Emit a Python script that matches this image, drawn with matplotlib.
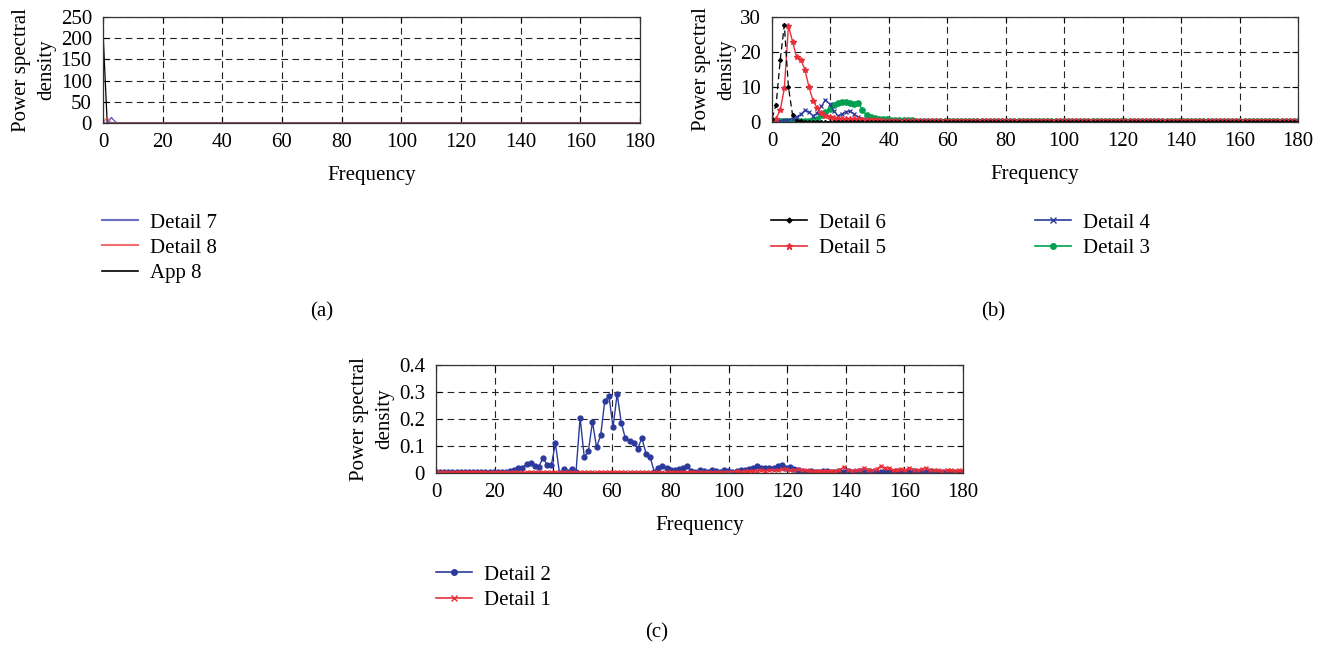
import numpy as np
import matplotlib.pyplot as plt
from matplotlib.lines import Line2D

plt.rcParams['font.family'] = ['Liberation Serif', 'DejaVu Serif']
plt.rcParams['font.size'] = 15

# frequency bins (256-point FFT at 360 Hz -> 129 bins up to 180 Hz)
freq = np.linspace(0, 180, 129)
xticks = [0, 20, 40, 60, 80, 100, 120, 140, 160, 180]

# (a) low bands
app8 = [215] + [0] * 128
detail8 = [0, 14] + [0] * 127
detail7 = [0, 0, 13, 2] + [0] * 125

# (b) middle bands
detail6 = [1.0, 4.9, 17.7, 27.7, 10, 2, 0.4, 0.2] + [0.1] * 121
detail5 = [0.5, 1.0, 3.4, 9.6, 27.5, 23, 18.5, 17.8, 15, 10, 6, 4, 2.5, 1.8,
           1.5, 1.2, 1.0, 1.0, 0.9, 0.9, 0.8, 0.8, 0.7, 0.7, 0.6, 0.5, 0.5,
           0.4] + [0.2] * 101
detail4 = [0.3, 0.3, 0.4, 0.5, 0.6, 1.0, 1.5, 2.2, 3.3, 2.8, 1.8, 2.5, 4.5,
           6.3, 5.2, 3.2, 1.8, 2.3, 3.0, 3.1, 2.2, 1.5, 1.0, 0.7, 0.5, 0.4,
           0.4, 0.3, 0.3, 0.3] + [0.2] * 99
detail3 = [0.3] * 10 + [0.5, 1.0, 2.0, 3.0, 3.8, 4.8, 5.4, 5.8, 5.7, 5.4, 5.2,
                        5.5, 3.4, 2.0, 1.4, 1.1, 0.9, 0.8, 0.8, 0.7, 0.6, 0.6,
                        0.5, 0.5, 0.5, 0.4, 0.4, 0.4, 0.4, 0.4, 0.4, 0.4, 0.4,
                        0.4, 0.4, 0.4] + [0.3] * 83

# (c) high bands
detail2 = ([0.003] * 18 +
           [0.006, 0.011, 0.02, 0.02, 0.033, 0.038, 0.026, 0.024, 0.057, 0.03,
            0.028, 0.11, 0.0, 0.015, 0.005, 0.015, 0.003, 0.205, 0.06, 0.08,
            0.19, 0.095, 0.14, 0.268, 0.285, 0.17, 0.293, 0.186, 0.128, 0.118,
            0.11, 0.09, 0.13, 0.072, 0.06, 0.005, 0.02, 0.025, 0.018, 0.01,
            0.01, 0.015, 0.02, 0.025] +
           [0.008, 0.005, 0.01, 0.006, 0.004, 0.012, 0.008, 0.005, 0.01, 0.006,
            0.004, 0.008, 0.01] +
           [0.012, 0.015, 0.02, 0.026, 0.02, 0.018, 0.02, 0.02, 0.025, 0.03,
            0.02, 0.022, 0.015, 0.01] +
           [0.006, 0.004, 0.008, 0.005, 0.003, 0.006, 0.007, 0.004, 0.005, 0.008,
            0.004, 0.006, 0.003, 0.005, 0.007, 0.004, 0.006, 0.005, 0.003, 0.004,
            0.006, 0.005, 0.004, 0.007, 0.003, 0.005, 0.004, 0.006, 0.003, 0.005,
            0.004, 0.006, 0.005, 0.003, 0.004, 0.005, 0.003, 0.004, 0.005, 0.003])
detail1 = ([0.002] * 71 +
           [0.004, 0.005, 0.006, 0.005, 0.007, 0.008, 0.006, 0.008, 0.01, 0.009,
            0.011, 0.012, 0.01, 0.013, 0.015, 0.012, 0.01, 0.014, 0.012, 0.01,
            0.008, 0.009, 0.007, 0.008, 0.006, 0.008, 0.007, 0.01] +
           [0.022, 0.01, 0.008, 0.012, 0.01, 0.02, 0.01, 0.012, 0.015, 0.025,
            0.018, 0.02, 0.012, 0.01, 0.015, 0.01, 0.02, 0.012, 0.01, 0.014,
            0.018, 0.01, 0.012, 0.01, 0.008, 0.012, 0.01, 0.008, 0.01, 0.008])

BLUE = '#2b3a9b'
RED = '#e8303a'
GREEN = '#00a050'
W, H = 1328, 646
FS = 15


def style(ax, yticks, ylabels):
    ax.set_xlim(0, 180)
    ax.set_ylim(yticks[0], yticks[-1])
    ax.set_xticks(xticks)
    ax.set_yticks(yticks)
    ax.set_yticklabels(ylabels)
    ax.grid(True, ls=(0, (6, 4)), color='#222222', lw=0.8)
    ax.tick_params(direction='in', top=True, right=True, length=4,
                   labelsize=FS)
    ax.tick_params(axis='x', pad=7)
    ax.tick_params(axis='y', pad=8)
    for s in ax.spines.values():
        s.set_color('#333333')
        s.set_linewidth(0.9)
    ax.set_xlabel('Frequency', fontsize=FS, labelpad=10)
    ax.set_ylabel('Power spectral\ndensity', fontsize=FS, labelpad=3,
                  linespacing=1.45)


def box(l, t, r, b):
    return [l / W, 1 - b / H, (r - l) / W, (b - t) / H]


leg_kw = dict(loc='upper left', frameon=False, fontsize=FS, handlelength=1.75,
              handletextpad=0.55, labelspacing=0.27, borderpad=0,
              borderaxespad=0)

fig = plt.figure(figsize=(13.28, 6.46), dpi=100)

# (a)
ax1 = fig.add_axes(box(103, 17, 640, 123))
ax1.plot(freq, app8, color='black', lw=0.9, label='App 8')
ax1.plot(freq, detail7, color='#4a55b5', lw=0.9, label='Detail 7')
ax1.plot(freq, detail8, color='#e84a4a', lw=0.9, alpha=0.75, label='Detail 8')
style(ax1, [0, 50, 100, 150, 200, 250], ['0', '50', '100', '150', '200', '250'])
h = [Line2D([], [], color='#6a70c0', lw=1.5),
     Line2D([], [], color='#f07070', lw=1.5),
     Line2D([], [], color='black', lw=1.2)]
fig.legend(h, ['Detail 7', 'Detail 8', 'App 8'],
           bbox_to_anchor=(102 / W, 1 - 213 / H), **leg_kw)

# (b)
ax2 = fig.add_axes(box(772, 17, 1298, 122))
ax2.plot(freq, detail3, color=GREEN, lw=1.0, marker='o', ms=3.8)
ax2.plot(freq, detail4, color=BLUE, lw=0.9, marker='x', ms=3.5, mew=0.9)
ax2.plot(freq, detail5, color=RED, lw=1.0, marker='*', ms=4)
ax2.plot(freq, detail6, color='black', lw=0.9, ls=(0, (5, 3)), marker='D',
         ms=2)
style(ax2, [0, 10, 20, 30], ['0', '10', '20', '30'])
h = [Line2D([], [], color='black', lw=1.2, marker='D', ms=2.5),
     Line2D([], [], color=RED, lw=1.2, marker='*', ms=4.5),
     Line2D([], [], color=BLUE, lw=1.2, marker='x', ms=4),
     Line2D([], [], color=GREEN, lw=1.2, marker='o', ms=4)]
fig.legend(h, ['Detail 6', 'Detail 5', 'Detail 4', 'Detail 3'], ncol=2,
           columnspacing=7.15, bbox_to_anchor=(771 / W, 1 - 213 / H), **leg_kw)

# (c)
ax3 = fig.add_axes(box(436, 365, 963, 473))
ax3.plot(freq, detail2, color=BLUE, lw=1.0, marker='o', ms=3.5)
ax3.plot(freq, detail1, color=RED, lw=1.0, marker='x', ms=3.5, mew=1.0)
style(ax3, [0, 0.1, 0.2, 0.3, 0.4], ['0', '0.1', '0.2', '0.3', '0.4'])
h = [Line2D([], [], color=BLUE, lw=1.2, marker='o', ms=4),
     Line2D([], [], color=RED, lw=1.2, marker='x', ms=4)]
fig.legend(h, ['Detail 2', 'Detail 1'],
           bbox_to_anchor=(436 / W, 1 - 565 / H), **leg_kw)

fig.text(322 / W, 1 - 312 / H, '(a)', ha='center', va='center', fontsize=FS)
fig.text(993 / W, 1 - 312 / H, '(b)', ha='center', va='center', fontsize=FS)
fig.text(657 / W, 1 - 633 / H, '(c)', ha='center', va='center', fontsize=FS)

fig.savefig('out.png', dpi=100)
